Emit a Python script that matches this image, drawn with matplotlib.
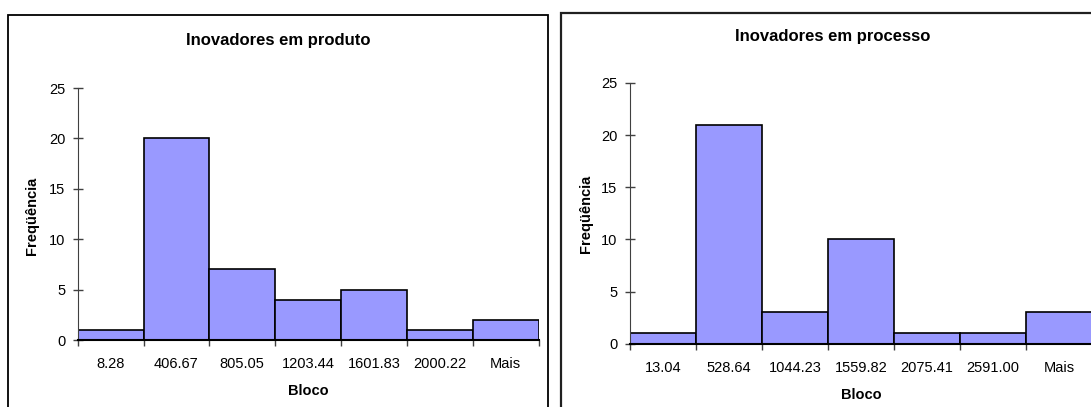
import numpy as np
import matplotlib
matplotlib.use("Agg")
import matplotlib.pyplot as plt
from matplotlib.patches import Rectangle

plt.rcParams['font.family'] = ['Liberation Sans', 'DejaVu Sans']

# dados
bins_produto = ['8.28', '406.67', '805.05', '1203.44', '1601.83', '2000.22', 'Mais']
freq_produto = [1, 20, 7, 4, 5, 1, 2]

bins_processo = ['13.04', '528.64', '1044.23', '1559.82', '2075.41', '2591.00', 'Mais']
freq_processo = [1, 21, 3, 10, 1, 1, 3]

W, H = 1091, 407
fig = plt.figure(figsize=(W / 100, H / 100), dpi=100)


def px(x0, y0, x1, y1):
    # pixel box -> figure coords [left, bottom, width, height]
    return [x0 / W, 1 - y1 / H, (x1 - x0) / W, (y1 - y0) / H]


def histograma(ax, labels, freq):
    n = len(freq)
    ax.bar(np.arange(n), freq, width=1, align='edge', color='#9999FF',
           edgecolor='black', linewidth=1.2, zorder=2)
    ax.set_xlim(0, n)
    ax.set_ylim(0, 25)
    ax.set_yticks([0, 5, 10, 15, 20, 25])
    ax.set_xticks(np.arange(n + 1))
    ax.set_xticklabels([])
    ax.set_xticks(np.arange(n) + 0.5, minor=True)
    ax.set_xticklabels(labels, minor=True)
    ax.tick_params(axis='x', which='major', direction='out', length=4, width=1, color='#404040')
    ax.tick_params(axis='x', which='minor', length=0, pad=12.5, labelsize=10.5)
    ax.tick_params(axis='y', direction='inout', length=7, width=1, color='#404040',
                   pad=5.5, labelsize=10.5)
    for s in ['top', 'right']:
        ax.spines[s].set_visible(False)
    ax.spines['left'].set_color('#404040')
    ax.spines['bottom'].set_color('black')
    ax.spines['bottom'].set_linewidth(1.5)
    ax.set_xlabel('Bloco', fontsize=10.5, fontweight='bold', labelpad=9)


# painel esquerdo
fig.add_artist(Rectangle((8 / W, -0.05), 540 / W, 1.05 - 15 / H, transform=fig.transFigure,
                         fill=False, edgecolor='black', linewidth=1.3))
ax1 = fig.add_axes(px(77.7, 88, 538.5, 340))
histograma(ax1, bins_produto, freq_produto)
fig.text(278 / W, 1 - 40 / H, 'Inovadores em produto', ha='center', va='center',
         fontsize=12, fontweight='bold')
fig.text(32 / W, 1 - 216 / H, 'Freqüência', ha='center', va='center', rotation=90,
         fontsize=10.5, fontweight='bold')

# painel direito
fig.add_artist(Rectangle((561 / W, -0.05), 600 / W, 1.05 - 13 / H, transform=fig.transFigure,
                         fill=False, edgecolor='#202020', linewidth=1.6))
ax2 = fig.add_axes(px(630, 83, 1092, 343.7))
histograma(ax2, bins_processo, freq_processo)
fig.text(833 / W, 1 - 37 / H, 'Inovadores em processo', ha='center', va='center',
         fontsize=12, fontweight='bold')
fig.text(586 / W, 1 - 214 / H, 'Freqüência', ha='center', va='center', rotation=90,
         fontsize=10.5, fontweight='bold')

fig.savefig('out.png', dpi=100)
